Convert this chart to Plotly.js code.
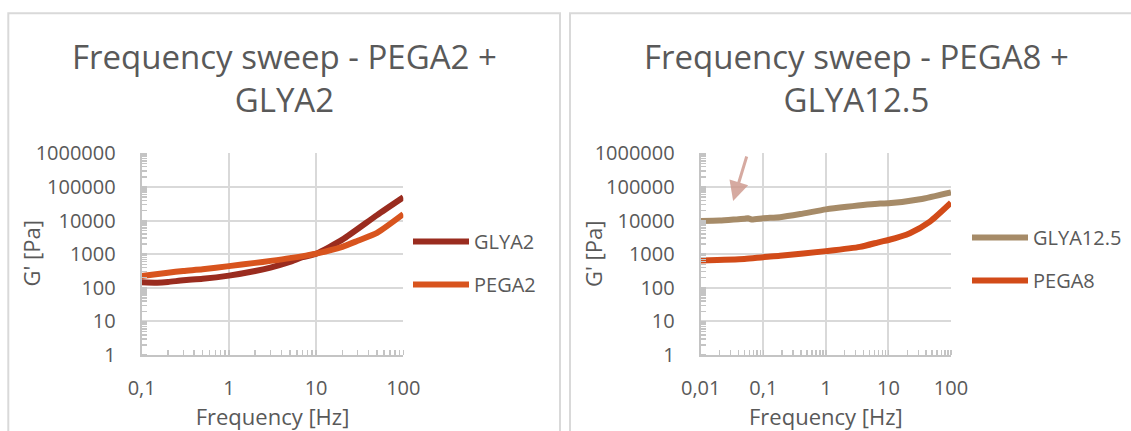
<!DOCTYPE html>
<html>
<head>
<meta charset="utf-8">
<script src="https://cdn.plot.ly/plotly-3.0.1.min.js"></script>
<style>html,body{margin:0;padding:0;background:#fff;}#chart{width:1131px;height:431px;}</style>
</head>
<body>
<div id="chart"></div>
<script>
// ---- Data ----
const freqLeft = [0.1, 0.15, 0.2, 0.3, 0.5, 1, 2, 3, 5, 7, 10, 20, 50, 100];
const glya2    = [146, 142, 148, 167, 185, 230, 315, 400, 590, 810, 1030, 2700, 14500, 49000];
const freqPega2 = [0.1, 0.2, 0.3, 0.5, 1, 2, 3, 5, 10, 20, 30, 50, 100];
const pega2     = [224, 280, 316, 355, 440, 550, 630, 760, 1040, 1650, 2500, 4300, 15500];

const freqGlya125 = [0.01, 0.02, 0.04, 0.05, 0.057, 0.065, 0.1, 0.185, 0.39, 1, 2.16, 7.4, 10, 32, 100];
const glya125     = [9700, 10000, 11000, 11300, 11700, 10700, 11700, 12600, 15600, 21500, 25600, 32000, 32500, 43000, 69000];
const freqPega8 = [0.01, 0.05, 0.1, 0.185, 1, 3.5, 7.4, 10, 22, 46, 100];
const pega8     = [650, 720, 815, 890, 1230, 1650, 2330, 2640, 4200, 9300, 34000];

const names = ['GLYA2', 'PEGA2', 'GLYA12.5', 'PEGA8'];
const titles = ['Frequency sweep - PEGA2 +<br>GLYA2', 'Frequency sweep - PEGA8 +<br>GLYA12.5'];
const xTitle = 'Frequency [Hz]';
const yTitle = "G' [Pa]";
const xTickValsLeft = [0.1, 1, 10, 100];
const xTickTextLeft = ['0,1', '1', '10', '100'];
const xTickValsRight = [0.01, 0.1, 1, 10, 100];
const xTickTextRight = ['0,01', '0,1', '1', '10', '100'];
const yTickVals = [1, 10, 100, 1000, 10000, 100000, 1000000];
const yTickText = ['1', '10', '100', '1000', '10000', '100000', '1000000'];

// ---- Styling ----
const W = 1131, H = 431;
const FONT = 'Open Sans, Noto Sans, sans-serif';
const TXT = '#595959';
const GRID = '#d9d9d9';
const colors = ['#9a2c1f', '#d8541e', '#a68b68', '#d24b19'];
const px = (x) => x / W;
const py = (y) => 1 - y / H;

const traces = [
  {x: freqLeft, y: glya2, name: names[0], xaxis: 'x', yaxis: 'y', legend: 'legend', legendgroup: 'a'},
  {x: freqPega2, y: pega2, name: names[1], xaxis: 'x', yaxis: 'y', legend: 'legend', legendgroup: 'b'},
  {x: freqGlya125, y: glya125, name: names[2], xaxis: 'x2', yaxis: 'y2', legend: 'legend2', legendgroup: 'c'},
  {x: freqPega8, y: pega8, name: names[3], xaxis: 'x2', yaxis: 'y2', legend: 'legend2', legendgroup: 'd'}
].map((t, i) => Object.assign(t, {
  type: 'scatter', mode: 'lines',
  line: {color: colors[i], width: 6, shape: 'spline', smoothing: 0.6}
}));

function xAxis(domain, range, vals, text, anchor) {
  return {
    type: 'log', domain: domain, range: range, anchor: anchor,
    tickvals: vals, ticktext: text, ticks: '', ticklabelstandoff: 14,
    tickfont: {family: FONT, size: 20, color: TXT},
    showgrid: true, gridcolor: GRID, gridwidth: 2,
    showline: true, linecolor: '#c4c4c4', linewidth: 2, zeroline: false,
    minor: {ticks: 'inside', ticklen: 5, tickwidth: 1.5, tickcolor: '#c4c4c4', dtick: 'D1', showgrid: false},
    title: {text: xTitle, font: {family: FONT, size: 22, color: TXT}, standoff: 9},
    automargin: false, fixedrange: true
  };
}
function yAxis(domain, anchor) {
  return {
    type: 'log', domain: domain, range: [0, 6], anchor: anchor,
    tickvals: yTickVals, ticktext: yTickText, ticks: '', ticklabelstandoff: 20,
    tickfont: {family: FONT, size: 20, color: TXT},
    showgrid: true, gridcolor: GRID, gridwidth: 2,
    showline: true, linecolor: '#c4c4c4', linewidth: 2, zeroline: false,
    minor: {ticks: 'inside', ticklen: 5, tickwidth: 1.5, tickcolor: '#c4c4c4', dtick: 'D1', showgrid: false},
    automargin: false, fixedrange: true
  };
}

const yDom = [py(355), py(153.3)];
const legendCommon = {xanchor: 'left', yanchor: 'top', bgcolor: 'rgba(0,0,0,0)',
  font: {family: FONT, size: 20, color: TXT}, tracegroupgap: 14, itemwidth: 56};
const layout = {
  width: W, height: H,
  margin: {l: 0, r: 0, t: 0, b: 0},
  paper_bgcolor: '#ffffff', plot_bgcolor: '#ffffff',
  font: {family: FONT, color: TXT},
  xaxis: xAxis([px(141.7), px(403.3)], [-1, 2], xTickValsLeft, xTickTextLeft, 'y'),
  yaxis: yAxis(yDom, 'x'),
  xaxis2: xAxis([px(700.7), px(951)], [-2, 2], xTickValsRight, xTickTextRight, 'y2'),
  yaxis2: yAxis(yDom, 'x2'),
  legend: Object.assign({x: px(408), y: py(222)}, legendCommon),
  legend2: Object.assign({x: px(967), y: py(218)}, legendCommon),
  shapes: [
    {type: 'rect', xref: 'paper', yref: 'paper', x0: px(8.3), x1: px(560), y0: -0.2, y1: py(13.3),
     line: {color: GRID, width: 2}, fillcolor: 'rgba(0,0,0,0)', layer: 'below'},
    {type: 'rect', xref: 'paper', yref: 'paper', x0: px(570), x1: 1.1, y0: -0.2, y1: py(13.3),
     line: {color: GRID, width: 2}, fillcolor: 'rgba(0,0,0,0)', layer: 'below'}
  ],
  annotations: [
    {text: titles[0], xref: 'paper', yref: 'paper', x: px(284), y: py(78.5), xanchor: 'center', yanchor: 'middle',
     showarrow: false, font: {family: FONT, size: 33, color: TXT}},
    {text: titles[1], xref: 'paper', yref: 'paper', x: px(856), y: py(78.5), xanchor: 'center', yanchor: 'middle',
     showarrow: false, font: {family: FONT, size: 33, color: TXT}},
    {text: yTitle, xref: 'paper', yref: 'paper', x: px(30.5), y: py(254), xanchor: 'center', yanchor: 'middle',
     textangle: -90, showarrow: false, font: {family: FONT, size: 22, color: TXT}},
    {text: yTitle, xref: 'paper', yref: 'paper', x: px(593), y: py(254), xanchor: 'center', yanchor: 'middle',
     textangle: -90, showarrow: false, font: {family: FONT, size: 22, color: TXT}},
    {text: '', xref: 'x2', yref: 'y2', x: Math.log10(0.033), y: Math.log10(38000),
     axref: 'pixel', ayref: 'pixel', ax: 14, ay: -46, showarrow: true,
     arrowhead: 2, arrowsize: 1.3, arrowwidth: 3, arrowcolor: 'rgba(205,150,138,0.8)'}
  ],
  showlegend: true
};

Plotly.newPlot('chart', traces, layout, {staticPlot: true, displayModeBar: false});
</script>
</body>
</html>
